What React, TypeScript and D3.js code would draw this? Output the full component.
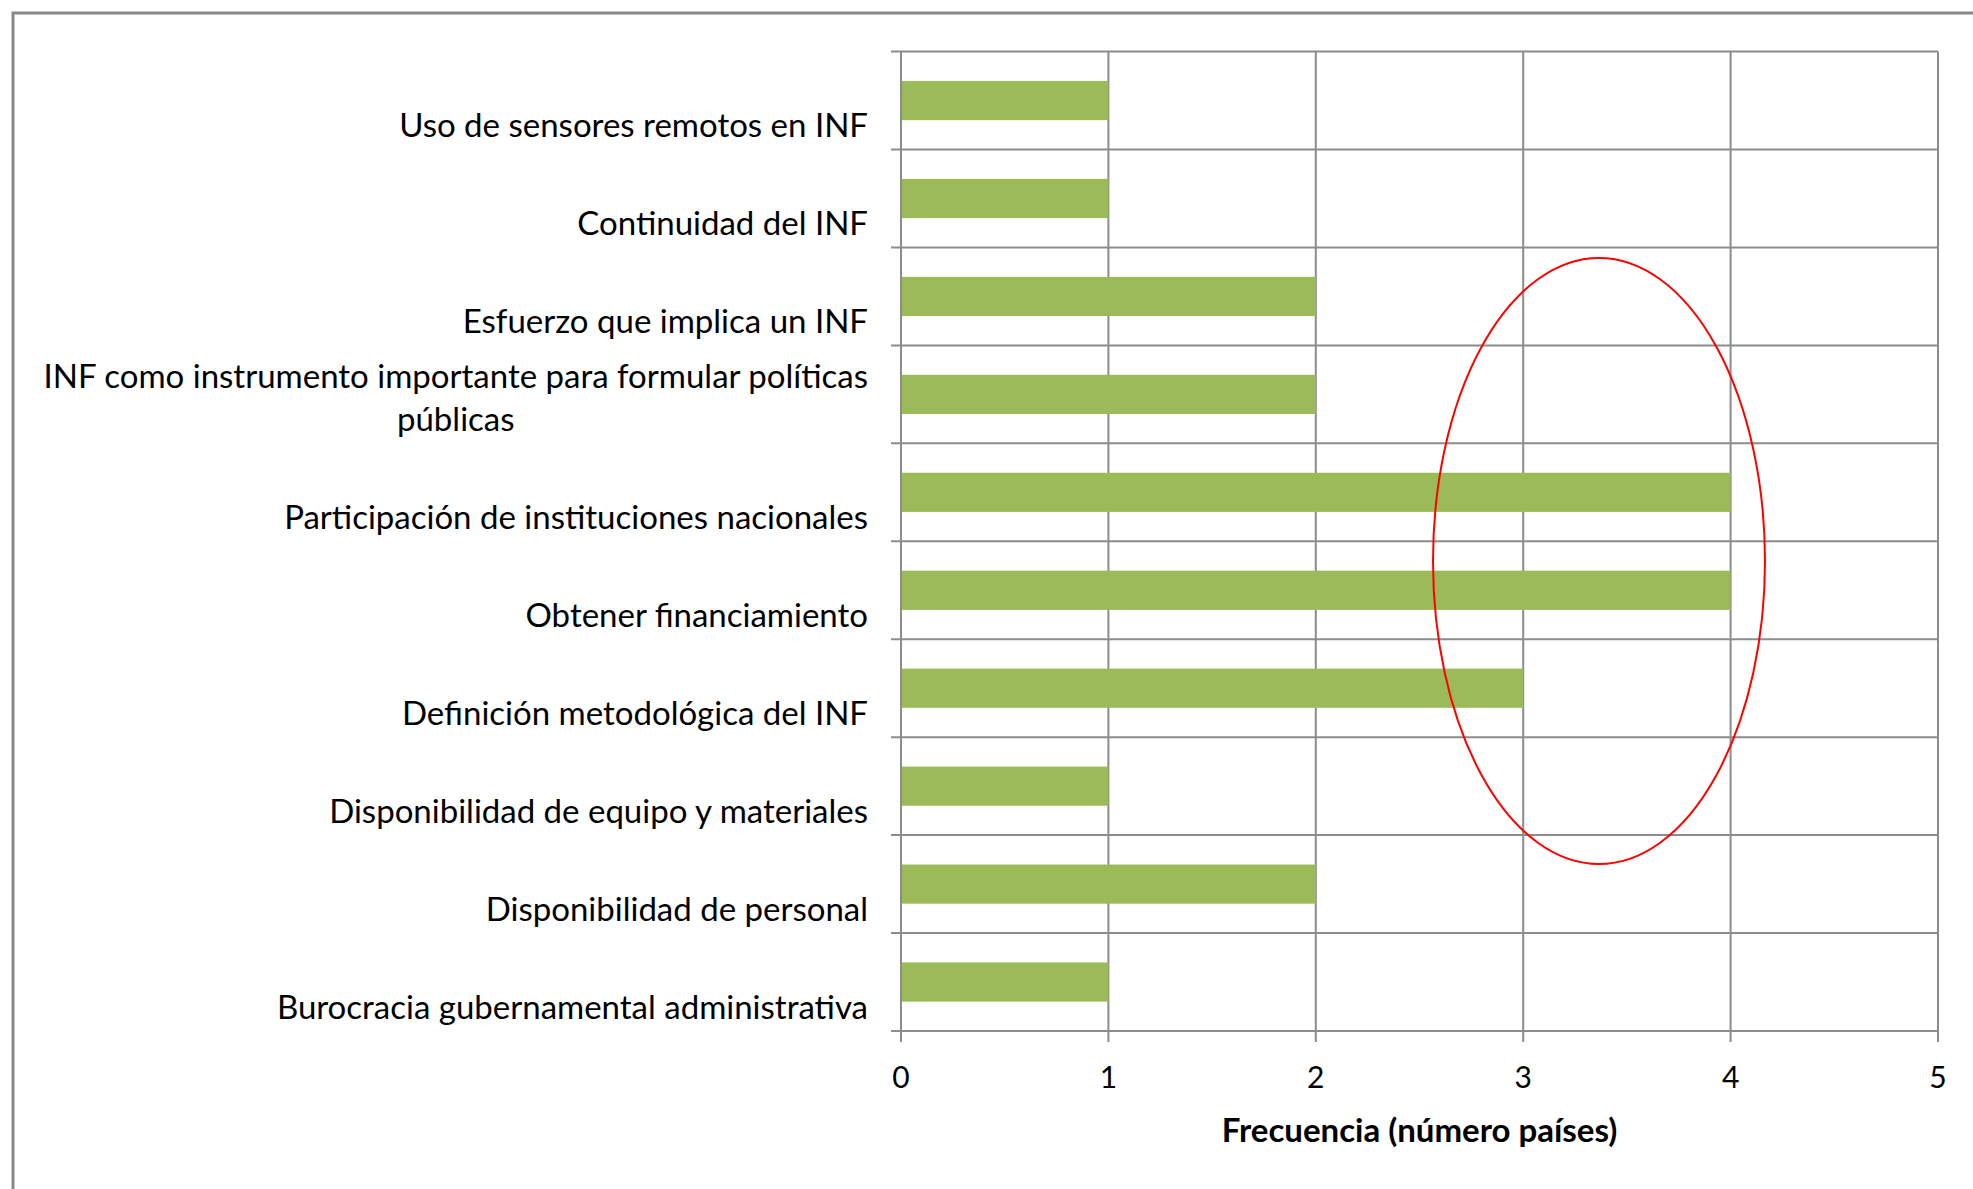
import React, { useEffect, useRef } from "react";
import * as d3 from "d3";

const categories: string[] = [
  "Uso de sensores remotos en INF",
  "Continuidad del INF",
  "Esfuerzo que implica un INF",
  "INF como instrumento importante para formular políticas\npúblicas",
  "Participación de instituciones nacionales",
  "Obtener financiamiento",
  "Definición metodológica del INF",
  "Disponibilidad de equipo y materiales",
  "Disponibilidad de personal",
  "Burocracia gubernamental administrativa",
];
const values: number[] = [1, 1, 2, 2, 4, 4, 3, 1, 2, 1];
const xTicks: number[] = [0, 1, 2, 3, 4, 5];
const xTitle = "Frecuencia (número países)";

const W = 1973;
const H = 1189;
const FONT = "Lato, 'Open Sans', sans-serif";
const FS = 33;
const FS_TICK = 30;

export default function App() {
  const ref = useRef<SVGSVGElement | null>(null);

  useEffect(() => {
    const svg = d3.select(ref.current);
    svg.selectAll("*").remove();

    const left = 901, right = 1938, top = 51.6, bottom = 1031;
    const x = d3.scaleLinear().domain([0, 5]).range([left, right]);
    const y = d3.scaleBand<string>().domain(categories).range([top, bottom]).paddingInner(0.6).paddingOuter(0.3);
    const yb = d3.scaleBand<string>().domain(categories).range([top, bottom]);
    const grid = "#8c8c8c";

    svg.append("rect").attr("x", 0).attr("y", 0).attr("width", W).attr("height", H).attr("fill", "#fff");
    // outer frame
    svg.append("rect").attr("x", 13).attr("y", 13).attr("width", W + 50).attr("height", H + 50)
      .attr("fill", "none").attr("stroke", "#888").attr("stroke-width", 3);

    // horizontal gridlines at band boundaries (with ticks extending left)
    const bounds = categories.map((c) => yb(c)!).concat([bottom]);
    svg.append("g").selectAll("line").data(bounds).join("line")
      .attr("x1", left - 10).attr("x2", right).attr("y1", (d) => d).attr("y2", (d) => d)
      .attr("stroke", grid).attr("stroke-width", 2);

    // vertical gridlines with ticks below
    svg.append("g").selectAll("line").data(xTicks).join("line")
      .attr("x1", (d) => x(d)).attr("x2", (d) => x(d)).attr("y1", top).attr("y2", bottom + 11)
      .attr("stroke", grid).attr("stroke-width", 2);

    // bars
    svg.append("g").selectAll("rect").data(categories).join("rect")
      .attr("x", x(0)).attr("y", (c) => y(c)!).attr("height", y.bandwidth())
      .attr("width", (c, i) => x(values[i]) - x(0)).attr("fill", "#9BBB59");

    // redraw axis line on top
    svg.append("line").attr("x1", left).attr("x2", left).attr("y1", top).attr("y2", bottom + 11)
      .attr("stroke", grid).attr("stroke-width", 2);

    // category labels
    const lineH = 43;
    const labelRight = 868;
    categories.forEach((c) => {
      const lines = c.split("\n");
      const cy = yb(c)! + yb.bandwidth() / 2 + 2;
      const g = svg.append("g");
      const n = lines.length;
      const texts = lines.map((ln, k) => {
        const slot = 2 - n + k; // bottom-aligned in a 2-line block
        const ty = cy + (slot - 0.5) * lineH;
        return g.append("text").attr("y", ty).attr("dominant-baseline", "central")
          .attr("font-family", FONT).attr("font-size", FS).attr("fill", "#000").text(ln);
      });
      const widths = texts.map((t) => (t.node() as SVGTextElement).getComputedTextLength());
      const maxW = Math.max(...widths);
      texts.forEach((t) => t.attr("x", labelRight - maxW / 2).attr("text-anchor", "middle"));
    });

    // x tick labels
    svg.append("g").selectAll("text").data(xTicks).join("text")
      .attr("x", (d) => x(d)).attr("y", 1076).attr("text-anchor", "middle").attr("dominant-baseline", "central")
      .attr("font-family", FONT).attr("font-size", FS_TICK).attr("fill", "#000").text((d) => String(d));

    // x title
    svg.append("text").attr("x", (left + right) / 2).attr("y", 1129).attr("text-anchor", "middle")
      .attr("dominant-baseline", "central").attr("font-family", FONT).attr("font-size", FS)
      .attr("font-weight", "bold").attr("fill", "#000").text(xTitle);

    // red ellipse annotation
    svg.append("ellipse").attr("cx", 1599).attr("cy", 561).attr("rx", 166).attr("ry", 303)
      .attr("fill", "none").attr("stroke", "#ff0000").attr("stroke-width", 2);
  }, []);

  return (
    <svg ref={ref} width={W} height={H} style={{ position: "absolute", left: 0, top: 0, display: "block" }} />
  );
}
